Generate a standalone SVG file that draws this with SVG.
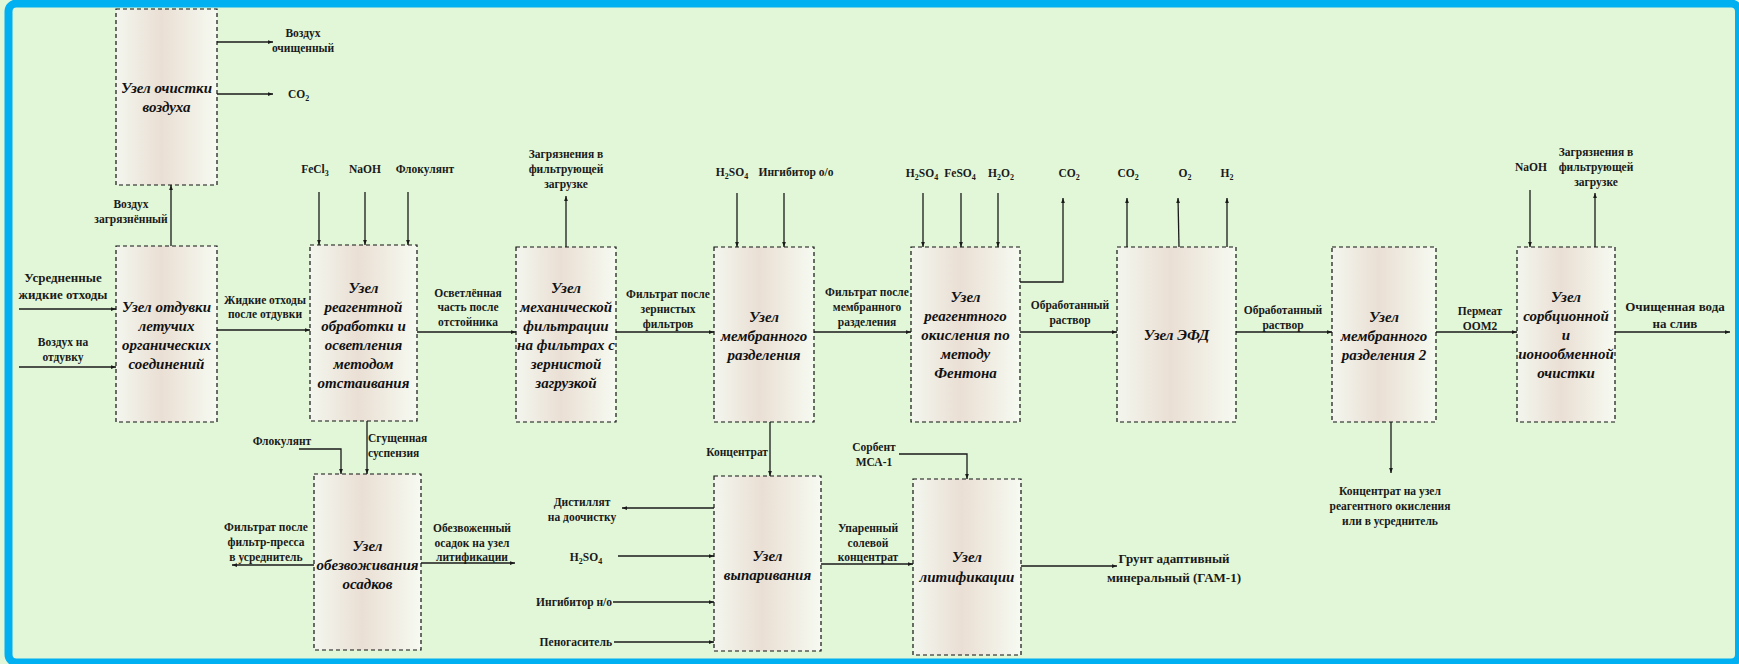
<svg xmlns="http://www.w3.org/2000/svg" width="1739" height="664" viewBox="0 0 1739 664">
<defs>
<linearGradient id="ng" x1="0" y1="0" x2="1" y2="0">
<stop offset="0" stop-color="#f3f6ee"/>
<stop offset="0.45" stop-color="#eadfd4"/>
<stop offset="1" stop-color="#f6faf1"/>
</linearGradient>
<marker id="ah" viewBox="0 0 8 6" refX="8" refY="3" markerWidth="5" markerHeight="4" orient="auto" markerUnits="userSpaceOnUse">
<path d="M0,0 L8,3 L0,6 z" fill="#1a1a1a"/>
</marker>
<style>
.nd{fill:url(#ng);stroke:#111;stroke-width:1.2;stroke-dasharray:4,3}
.nt{font-family:"Liberation Serif","Times New Roman",serif;font-size:15px;font-weight:bold;font-style:italic;fill:#111;text-anchor:middle}
.lb{font-family:"Liberation Serif","Times New Roman",serif;font-size:11.5px;font-weight:bold;fill:#1a1a1a;text-anchor:middle}
.lg{font-size:13px}
.st{text-anchor:start}
.en{text-anchor:end}
.cn path{fill:none;stroke:#1a1a1a;stroke-width:1.3}
.ar{marker-end:url(#ah)}
</style>
</defs>
<rect x="0" y="0" width="1739" height="664" fill="#e2f7d8"/>
<rect x="8.5" y="3.5" width="1730.5" height="659" rx="8" fill="none" stroke="#00b0f0" stroke-width="8"/>

<g id="connectors" class="cn">
<path class="ar" d="M217,42 H273"/>
<path class="ar" d="M217,94 H273"/>
<path class="ar" d="M171,246 V185"/>
<path class="ar" d="M19,309 H116"/>
<path class="ar" d="M19,367 H116"/>
<path class="ar" d="M217,330 H310"/>
<path class="ar" d="M319,192 V245"/>
<path class="ar" d="M365,192 V245"/>
<path class="ar" d="M408,192 V245"/>
<path class="ar" d="M417,332 H516"/>
<path class="ar" d="M566,247 V196"/>
<path class="ar" d="M616,332 H714"/>
<path class="ar" d="M737,193 V247"/>
<path class="ar" d="M784,193 V247"/>
<path class="ar" d="M814,332 H911"/>
<path class="ar" d="M923,193 V247"/>
<path class="ar" d="M961,193 V247"/>
<path class="ar" d="M998,193 V247"/>
<path class="ar" d="M1020,282 H1063 V198"/>
<path class="ar" d="M1020,332 H1117"/>
<path class="ar" d="M1127,247 V198"/>
<path class="ar" d="M1179,247 L1178,198"/>
<path class="ar" d="M1227,247 V198"/>
<path class="ar" d="M1236,332 H1332"/>
<path class="ar" d="M1436,332 H1517"/>
<path class="ar" d="M1530,190 V247"/>
<path class="ar" d="M1595,247 V193"/>
<path class="ar" d="M1615,332 H1730"/>
<path class="ar" d="M1391,422 V473"/>
<path class="ar" d="M367,421 V474"/>
<path class="ar" d="M299,449 H341 V474"/>
<path class="ar" d="M314,565 H232"/>
<path class="ar" d="M421,563 H515"/>
<path class="ar" d="M770,422 V476"/>
<path class="ar" d="M714,508 H622"/>
<path class="ar" d="M618,556 H714"/>
<path class="ar" d="M613,602 H714"/>
<path class="ar" d="M614,642 H714"/>
<path class="ar" d="M821,564 H913"/>
<path class="ar" d="M899,454 H967 V479"/>
<path class="ar" d="M1021,566 H1117"/>
</g>

<g id="node-air">
<rect class="nd" x="116" y="9" width="101" height="176"/>
<text class="nt"><tspan x="166.5" y="93">Узел очистки</tspan><tspan x="166.5" y="112">воздуха</tspan></text>
</g>
<g id="node-stripping">
<rect class="nd" x="116" y="246" width="101" height="176"/>
<text class="nt"><tspan x="166.5" y="312">Узел отдувки</tspan><tspan x="166.5" y="331">летучих</tspan><tspan x="166.5" y="350">органических</tspan><tspan x="166.5" y="369">соединений</tspan></text>
</g>
<g id="node-reagent">
<rect class="nd" x="310" y="245" width="107" height="176"/>
<text class="nt"><tspan x="363.5" y="293">Узел</tspan><tspan x="363.5" y="312">реагентной</tspan><tspan x="363.5" y="331">обработки и</tspan><tspan x="363.5" y="350">осветления</tspan><tspan x="363.5" y="369">методом</tspan><tspan x="363.5" y="388">отстаивания</tspan></text>
</g>
<g id="node-mechfilter">
<rect class="nd" x="516" y="247" width="100" height="175"/>
<text class="nt"><tspan x="566" y="293">Узел</tspan><tspan x="566" y="312">механической</tspan><tspan x="566" y="331">фильтрации</tspan><tspan x="566" y="350">на фильтрах с</tspan><tspan x="566" y="369">зернистой</tspan><tspan x="566" y="388">загрузкой</tspan></text>
</g>
<g id="node-membrane">
<rect class="nd" x="714" y="247" width="100" height="175"/>
<text class="nt"><tspan x="764" y="322">Узел</tspan><tspan x="764" y="341">мембранного</tspan><tspan x="764" y="360">разделения</tspan></text>
</g>
<g id="node-fenton">
<rect class="nd" x="911" y="247" width="109" height="175"/>
<text class="nt"><tspan x="965.5" y="302">Узел</tspan><tspan x="965.5" y="321">реагентного</tspan><tspan x="965.5" y="340">окисления  по</tspan><tspan x="965.5" y="359">методу</tspan><tspan x="965.5" y="378">Фентона</tspan></text>
</g>
<g id="node-efd">
<rect class="nd" x="1117" y="247" width="119" height="175"/>
<text class="nt"><tspan x="1176.5" y="340">Узел ЭФД</tspan></text>
</g>
<g id="node-membrane2">
<rect class="nd" x="1332" y="247" width="104" height="175"/>
<text class="nt"><tspan x="1384" y="322">Узел</tspan><tspan x="1384" y="341">мембранного</tspan><tspan x="1384" y="360">разделения 2</tspan></text>
</g>
<g id="node-sorption">
<rect class="nd" x="1517" y="247" width="98" height="175"/>
<text class="nt"><tspan x="1566" y="302">Узел</tspan><tspan x="1566" y="321">сорбционной</tspan><tspan x="1566" y="340">и</tspan><tspan x="1566" y="359">ионообменной</tspan><tspan x="1566" y="378">очистки</tspan></text>
</g>
<g id="node-dewatering">
<rect class="nd" x="314" y="474" width="107" height="176"/>
<text class="nt"><tspan x="367.5" y="551">Узел</tspan><tspan x="367.5" y="570">обезвоживания</tspan><tspan x="367.5" y="589">осадков</tspan></text>
</g>
<g id="node-evaporation">
<rect class="nd" x="714" y="476" width="107" height="175"/>
<text class="nt"><tspan x="767.5" y="561">Узел</tspan><tspan x="767.5" y="580">выпаривания</tspan></text>
</g>
<g id="node-lithification">
<rect class="nd" x="913" y="479" width="108" height="176"/>
<text class="nt"><tspan x="967" y="562">Узел</tspan><tspan x="967" y="582">литификации</tspan></text>
</g>

<g id="labels">
<text class="lb"><tspan x="303" y="37">Воздух</tspan><tspan x="303" y="52">очищенный</tspan></text>
<text class="lb st" x="288" y="98">CO<tspan font-size="8" dy="3">2</tspan></text>
<text class="lb"><tspan x="131" y="208">Воздух</tspan><tspan x="131" y="223">загрязнённый</tspan></text>
<text class="lb" x="315" y="173">FeCl<tspan font-size="8" dy="3">3</tspan></text>
<text class="lb" x="365" y="173">NaOH</text>
<text class="lb" x="425" y="173">Флокулянт</text>
<text class="lb lg"><tspan x="63" y="282">Усредненные</tspan><tspan x="63" y="299">жидкие отходы</tspan></text>
<text class="lb"><tspan x="63" y="346">Воздух на</tspan><tspan x="63" y="361">отдувку</tspan></text>
<text class="lb"><tspan x="265" y="304">Жидкие отходы</tspan><tspan x="265" y="318">после отдувки</tspan></text>
<text class="lb"><tspan x="468" y="297">Осветлённая</tspan><tspan x="468" y="311">часть после</tspan><tspan x="468" y="326">отстойника</tspan></text>
<text class="lb"><tspan x="566" y="158">Загрязнения в</tspan><tspan x="566" y="173">фильтрующей</tspan><tspan x="566" y="188">загрузке</tspan></text>
<text class="lb"><tspan x="668" y="298">Фильтрат после</tspan><tspan x="668" y="313">зернистых</tspan><tspan x="668" y="328">фильтров</tspan></text>
<text class="lb" x="732" y="176">H<tspan font-size="8" dy="3">2</tspan><tspan dy="-3">SO</tspan><tspan font-size="8" dy="3">4</tspan></text>
<text class="lb" x="796" y="176">Ингибитор о/о</text>
<text class="lb"><tspan x="867" y="296">Фильтрат после</tspan><tspan x="867" y="311">мембранного</tspan><tspan x="867" y="326">разделения</tspan></text>
<text class="lb" x="922" y="177">H<tspan font-size="8" dy="3">2</tspan><tspan dy="-3">SO</tspan><tspan font-size="8" dy="3">4</tspan></text>
<text class="lb" x="960" y="177">FeSO<tspan font-size="8" dy="3">4</tspan></text>
<text class="lb" x="1001" y="177">H<tspan font-size="8" dy="3">2</tspan><tspan dy="-3">O</tspan><tspan font-size="8" dy="3">2</tspan></text>
<text class="lb" x="1069" y="177">CO<tspan font-size="8" dy="3">2</tspan></text>
<text class="lb"><tspan x="1070" y="309">Обработанный</tspan><tspan x="1070" y="324">раствор</tspan></text>
<text class="lb" x="1128" y="177">CO<tspan font-size="8" dy="3">2</tspan></text>
<text class="lb" x="1185" y="177">O<tspan font-size="8" dy="3">2</tspan></text>
<text class="lb" x="1227" y="177">H<tspan font-size="8" dy="3">2</tspan></text>
<text class="lb"><tspan x="1283" y="314">Обработанный</tspan><tspan x="1283" y="329">раствор</tspan></text>
<text class="lb"><tspan x="1480" y="315">Пермеат</tspan><tspan x="1480" y="330">ООМ2</tspan></text>
<text class="lb" x="1531" y="171">NaOH</text>
<text class="lb"><tspan x="1596" y="156">Загрязнения в</tspan><tspan x="1596" y="171">фильтрующей</tspan><tspan x="1596" y="186">загрузке</tspan></text>
<text class="lb lg"><tspan x="1675" y="311">Очищенная вода</tspan><tspan x="1675" y="328">на слив</tspan></text>
<text class="lb"><tspan x="1390" y="495">Концентрат на узел</tspan><tspan x="1390" y="510">реагентного окисления</tspan><tspan x="1390" y="525">или в усреднитель</tspan></text>
<text class="lb lg"><tspan x="1174" y="563">Грунт адаптивный</tspan><tspan x="1174" y="582">минеральный (ГАМ-1)</tspan></text>
<text class="lb"><tspan x="874" y="451">Сорбент</tspan><tspan x="874" y="466">МСА-1</tspan></text>
<text class="lb"><tspan x="868" y="532">Упаренный</tspan><tspan x="868" y="547">солевой</tspan><tspan x="868" y="561">концентрат</tspan></text>
<text class="lb en" x="768" y="456">Концентрат</text>
<text class="lb"><tspan x="582" y="506">Дистиллят</tspan><tspan x="582" y="521">на доочистку</tspan></text>
<text class="lb" x="586" y="561">H<tspan font-size="8" dy="3">2</tspan><tspan dy="-3">SO</tspan><tspan font-size="8" dy="3">4</tspan></text>
<text class="lb en" x="612" y="606">Ингибитор н/о</text>
<text class="lb en" x="612" y="646">Пеногаситель</text>
<text class="lb" x="282" y="445">Флокулянт</text>
<text class="lb st"><tspan x="368" y="442">Сгущенная</tspan><tspan x="368" y="457">суспензия</tspan></text>
<text class="lb"><tspan x="266" y="531">Фильтрат после</tspan><tspan x="266" y="546">фильтр-пресса</tspan><tspan x="266" y="561">в усреднитель</tspan></text>
<text class="lb"><tspan x="472" y="532">Обезвоженный</tspan><tspan x="472" y="547">осадок на узел</tspan><tspan x="472" y="561">литификации</tspan></text>
</g>
</svg>
